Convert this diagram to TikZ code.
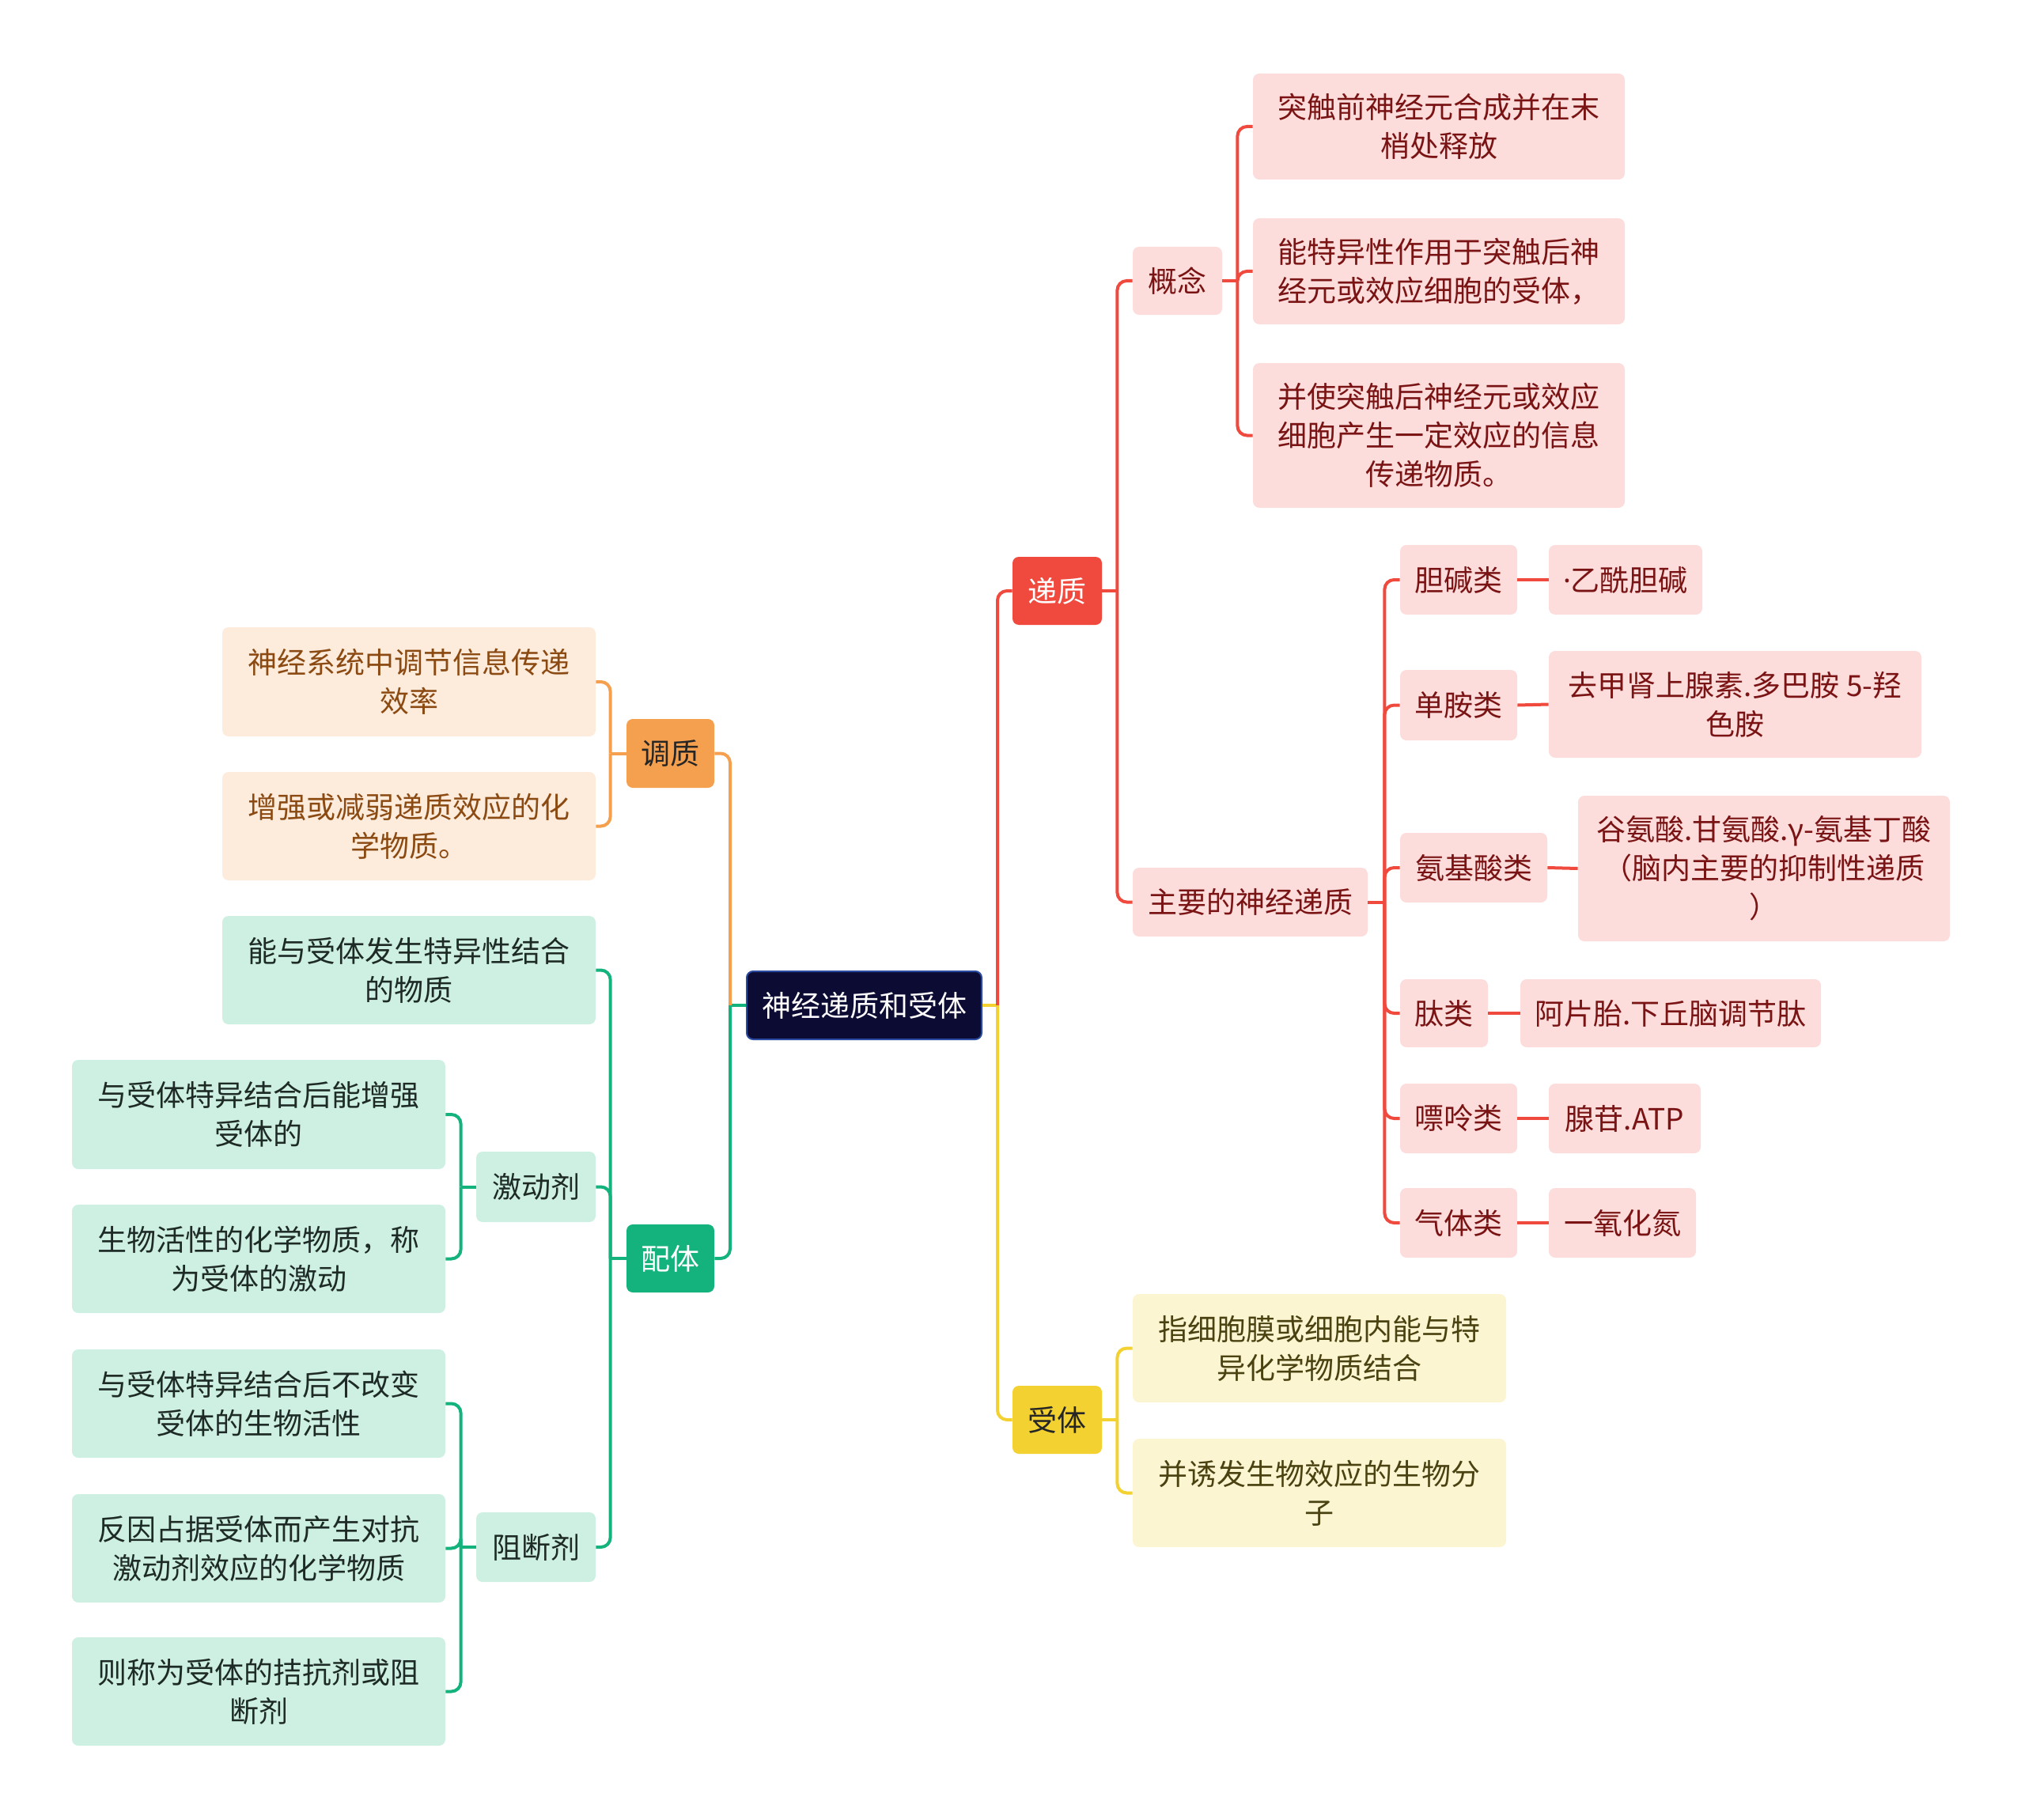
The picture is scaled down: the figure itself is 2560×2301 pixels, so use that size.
\documentclass[tikz,border=0pt]{standalone}
\usepackage{fontspec}
\setmainfont{Noto Sans CJK SC}
\newfontfamily\latinf{Noto Sans}
\usetikzlibrary{calc}
\definecolor{redmain}{HTML}{F04A3E}
\definecolor{pinkbg}{HTML}{FDDCDC}
\definecolor{pinktxt}{HTML}{7A1414}
\definecolor{orgmain}{HTML}{F5A04E}
\definecolor{orgbg}{HTML}{FDEBDC}
\definecolor{orgtxt}{HTML}{8B4A12}
\definecolor{grnmain}{HTML}{14B37D}
\definecolor{grnbg}{HTML}{CDF0E2}
\definecolor{grntxt}{HTML}{1E2A26}
\definecolor{ylwmain}{HTML}{F2D130}
\definecolor{ylwbg}{HTML}{FCF5D2}
\definecolor{ylwtxt}{HTML}{4A4210}
\definecolor{rootbg}{HTML}{0B0B33}
\definecolor{rootbd}{HTML}{2B4BA0}
\tikzset{
  bx/.style 2 args={minimum width={#1*0.5pt}, minimum height={#2*0.5pt}, inner sep=0pt,
     rounded corners=4pt, align=center, font=\fontsize{18.5}{24.5}\selectfont},
  rootbox/.style={fill=rootbg, draw=rootbd, line width=1pt, text=white},
  redbox/.style={fill=redmain, text=white},
  pinkbox/.style={fill=pinkbg, text=pinktxt},
  orgbox/.style={fill=orgmain, text=black!85},
  orgleaf/.style={fill=orgbg, text=orgtxt},
  grnbox/.style={fill=grnmain, text=white},
  grnleaf/.style={fill=grnbg, text=grntxt},
  ylwbox/.style={fill=ylwmain, text=black!85},
  ylwleaf/.style={fill=ylwbg, text=ylwtxt},
  conn/.style={line width=2pt, rounded corners=6pt},
}
\begin{document}
\begin{tikzpicture}[x=0.5pt,y=-0.5pt]
\useasboundingbox (0,0) rectangle (2560,2301);
% root and main branches
\node[bx={297}{86}, rootbox] (root) at (1092.5,1271) {神经递质和受体};
\node[bx={113}{86}, redbox] (dz) at (1336.5,747) {递质};
\node[bx={113}{86}, ylwbox] (st) at (1336.5,1795) {受体};
\node[bx={111}{87}, orgbox] (tz) at (847.5,952.5) {调质};
\node[bx={111}{86}, grnbox] (pt) at (847.5,1591) {配体};
% 递质 subtree
\node[bx={113}{86}, pinkbox] (gn) at (1488.5,355) {概念};
\node[bx={297}{87}, pinkbox] (zy) at (1580.5,1140.5) {主要的神经递质};
\node[bx={470}{134}, pinkbox] (c1) at (1819,160) {突触前神经元合成并在末\\梢处释放};
\node[bx={470}{134}, pinkbox] (c2) at (1819,343) {能特异性作用于突触后神\\经元或效应细胞的受体，};
\node[bx={470}{183}, pinkbox] (c3) at (1819,550.5) {并使突触后神经元或效应\\细胞产生一定效应的信息\\传递物质。};
\node[bx={148}{88}, pinkbox] (k1) at (1844,733) {胆碱类};
\node[bx={148}{89}, pinkbox] (k2) at (1844,891.5) {单胺类};
\node[bx={186}{88}, pinkbox] (k3) at (1863,1097) {氨基酸类};
\node[bx={111}{86}, pinkbox] (k4) at (1825.5,1281) {肽类};
\node[bx={148}{88}, pinkbox] (k5) at (1844,1414) {嘌呤类};
\node[bx={148}{88}, pinkbox] (k6) at (1844,1546) {气体类};
\node[bx={194}{88}, pinkbox] (v1) at (2055,733) {{\latinf ·}乙酰胆碱};
\node[bx={471}{135}, pinkbox] (v2) at (2193.5,890.5) {去甲肾上腺素.多巴胺 5-羟\\色胺};
\node[bx={470}{184}, pinkbox] (v3) at (2230,1098) {谷氨酸.甘氨酸.γ-氨基丁酸\\（脑内主要的抑制性递质\\）};
\node[bx={380}{86}, pinkbox] (v4) at (2112,1281) {阿片胎.下丘脑调节肽};
\node[bx={192}{88}, pinkbox] (v5) at (2054,1414) {腺苷.ATP};
\node[bx={186}{88}, pinkbox] (v6) at (2051,1546) {一氧化氮};
% 受体 subtree
\node[bx={472}{137}, ylwleaf] (r1) at (1668,1704.5) {指细胞膜或细胞内能与特\\异化学物质结合};
\node[bx={472}{137}, ylwleaf] (r2) at (1668,1887.5) {并诱发生物效应的生物分\\子};
% 调质 subtree
\node[bx={472}{138}, orgleaf] (m1) at (517,862) {神经系统中调节信息传递\\效率};
\node[bx={472}{137}, orgleaf] (m2) at (517,1044.5) {增强或减弱递质效应的化\\学物质。};
% 配体 subtree
\node[bx={472}{137}, grnleaf] (l1) at (517,1226.5) {能与受体发生特异性结合\\的物质};
\node[bx={151}{89}, grnleaf] (jd) at (677.5,1500.5) {激动剂};
\node[bx={151}{88}, grnleaf] (zd) at (677.5,1956) {阻断剂};
\node[bx={472}{138}, grnleaf] (a1) at (327,1409) {与受体特异结合后能增强\\受体的};
\node[bx={472}{137}, grnleaf] (a2) at (327,1591.5) {生物活性的化学物质，称\\为受体的激动};
\node[bx={472}{137}, grnleaf] (b1) at (327,1774.5) {与受体特异结合后不改变\\受体的生物活性};
\node[bx={472}{137}, grnleaf] (b2) at (327,1957.5) {反因占据受体而产生对抗\\激动剂效应的化学物质};
\node[bx={472}{137}, grnleaf] (b3) at (327,2138.5) {则称为受体的拮抗剂或阻\\断剂};
% connectors: root right
\coordinate (rR) at ($(root.east)+(19,0)$);
\draw[conn, ylwmain] (root.east) -- (rR);
\draw[conn, redmain] (rR) |- (dz.west);
\draw[conn, ylwmain] (rR) |- (st.west);
% root left
\coordinate (rL) at ($(root.west)+(-20,0)$);
\draw[conn, grnmain] (root.west) -- (rL);
\draw[conn, orgmain] (rL) |- (tz.east);
\draw[conn, grnmain] (rL) |- (pt.east);
% 递质
\coordinate (dzB) at ($(dz.east)+(19,0)$);
\draw[conn, redmain] (dz.east) -- (dzB);
\foreach \c in {gn,zy} \draw[conn, redmain] (dzB) |- (\c.west);
% 概念
\coordinate (gnB) at ($(gn.east)+(19,0)$);
\draw[conn, redmain] (gn.east) -- (gnB);
\foreach \c in {c1,c2,c3} \draw[conn, redmain] (gnB) |- (\c.west);
% 主要的神经递质
\coordinate (zyB) at ($(zy.east)+(21,0)$);
\draw[conn, redmain] (zy.east) -- (zyB);
\foreach \c in {k1,k2,k3,k4,k5,k6} \draw[conn, redmain] (zyB) |- (\c.west);
\foreach \a/\b in {k1/v1,k2/v2,k3/v3,k4/v4,k5/v5,k6/v6} \draw[conn, redmain] (\a.east) -- (\b.west);
% 受体
\coordinate (stB) at ($(st.east)+(19,0)$);
\draw[conn, ylwmain] (st.east) -- (stB);
\foreach \c in {r1,r2} \draw[conn, ylwmain] (stB) |- (\c.west);
% 调质
\coordinate (tzB) at ($(tz.west)+(-20,0)$);
\draw[conn, orgmain] (tz.west) -- (tzB);
\foreach \c in {m1,m2} \draw[conn, orgmain] (tzB) |- (\c.east);
% 配体
\coordinate (ptB) at ($(pt.west)+(-20,0)$);
\draw[conn, grnmain] (pt.west) -- (ptB);
\foreach \c in {l1,jd,zd} \draw[conn, grnmain] (ptB) |- (\c.east);
% 激动剂
\coordinate (jdB) at ($(jd.west)+(-19,0)$);
\draw[conn, grnmain] (jd.west) -- (jdB);
\foreach \c in {a1,a2} \draw[conn, grnmain] (jdB) |- (\c.east);
% 阻断剂
\coordinate (zdB) at ($(zd.west)+(-19,0)$);
\draw[conn, grnmain] (zd.west) -- (zdB);
\foreach \c in {b1,b2,b3} \draw[conn, grnmain] (zdB) |- (\c.east);
\end{tikzpicture}
\end{document}
